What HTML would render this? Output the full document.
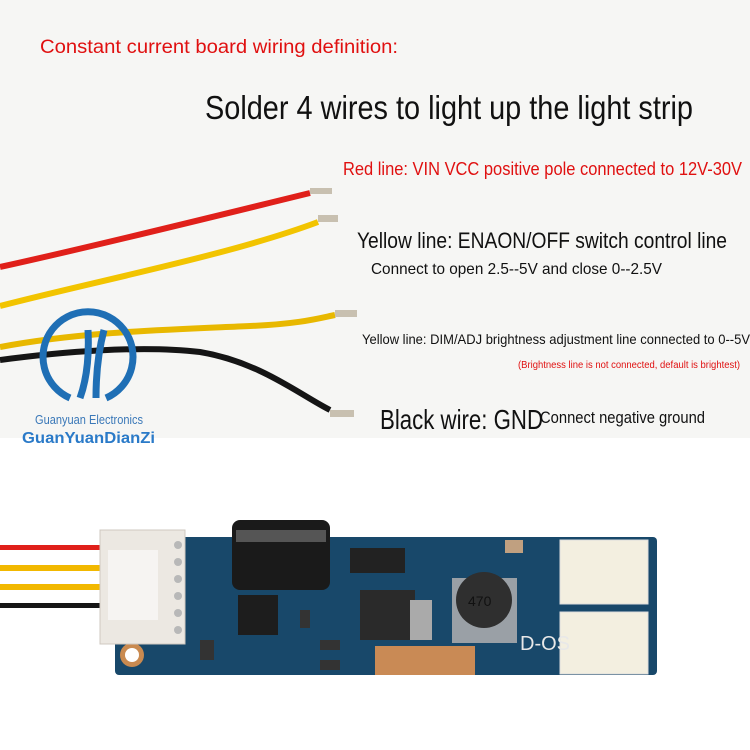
<!DOCTYPE html>
<html><head><style>
body{margin:0;width:750px;height:750px;background:#fff;overflow:hidden}
svg{display:block}
text{font-family:"Liberation Sans",sans-serif}
</style></head><body>
<svg width="750" height="750" viewBox="0 0 750 750">
<rect width="750" height="750" fill="#fff"/>
<rect width="750" height="438" fill="#f6f6f4"/>
<text x="40" y="53" font-size="19" fill="#e01010" textLength="358" lengthAdjust="spacingAndGlyphs">Constant current board wiring definition:</text>
<text x="205" y="119" font-size="33" fill="#111" textLength="488" lengthAdjust="spacingAndGlyphs">Solder 4 wires to light up the light strip</text>
<text x="343" y="175" font-size="18" fill="#e01010" textLength="399" lengthAdjust="spacingAndGlyphs">Red line: VIN VCC positive pole connected to 12V-30V</text>
<text x="357" y="248" font-size="22" fill="#111" textLength="370" lengthAdjust="spacingAndGlyphs">Yellow line: ENAON/OFF switch control line</text>
<text x="371" y="274" font-size="16" fill="#111" textLength="291" lengthAdjust="spacingAndGlyphs">Connect to open 2.5--5V and close 0--2.5V</text>
<text x="362" y="344" font-size="14" fill="#111" textLength="388" lengthAdjust="spacingAndGlyphs">Yellow line: DIM/ADJ brightness adjustment line connected to 0--5V</text>
<text x="518" y="368" font-size="10" fill="#e01010" textLength="222" lengthAdjust="spacingAndGlyphs">(Brightness line is not connected, default is brightest)</text>
<text x="380" y="429" font-size="28" fill="#111" textLength="163" lengthAdjust="spacingAndGlyphs">Black wire: GND</text>
<text x="540" y="423" font-size="17" fill="#111" textLength="165" lengthAdjust="spacingAndGlyphs">Connect negative ground</text>
<!-- wires -->
<path d="M0 267 C100 245 220 215 310 193" stroke="#e0201a" stroke-width="6" fill="none"/>
<path d="M0 306 C100 280 230 255 318 222" stroke="#f2c400" stroke-width="6" fill="none"/>
<path d="M0 347 C80 332 160 330 250 326 C300 324 320 318 335 315" stroke="#e8b800" stroke-width="6" fill="none"/>
<path d="M0 360 C60 352 140 345 200 352 C260 362 300 395 330 410" stroke="#151515" stroke-width="6" fill="none"/>
<g fill="#c8c0b0"><rect x="310" y="188" width="22" height="6"/><rect x="318" y="215" width="20" height="7"/><rect x="335" y="310" width="22" height="7"/><rect x="330" y="410" width="24" height="7"/></g>
<!-- logo -->
<path d="M70 398 A45 45 0 1 1 106 398" fill="none" stroke="#1f6fb5" stroke-width="7"/>
<path d="M88 330 Q90 370 80 398 M104 330 Q96 360 96 398" fill="none" stroke="#1f6fb5" stroke-width="7"/>
<text x="35" y="424" font-size="13" fill="#3a78b8" textLength="108" lengthAdjust="spacingAndGlyphs">Guanyuan Electronics</text>
<text x="22" y="443" font-size="16" font-weight="bold" fill="#2a7ac8" textLength="133" lengthAdjust="spacingAndGlyphs">GuanYuanDianZi</text>
<!-- board wires -->
<rect x="0" y="545" width="110" height="5" fill="#e0201a"/>
<rect x="0" y="565" width="110" height="6" fill="#f2b800"/>
<rect x="0" y="584" width="110" height="6" fill="#f2b800"/>
<rect x="0" y="603" width="110" height="5" fill="#151515"/>
<!-- pcb -->
<rect x="115" y="537" width="542" height="138" rx="4" fill="#18486a"/>
<circle cx="132" cy="655" r="12" fill="#c98a50"/><circle cx="132" cy="655" r="7" fill="#fff"/>
<rect x="375" y="646" width="100" height="29" fill="#c98a55"/>
<rect x="100" y="530" width="85" height="114" fill="#ece8e2" stroke="#cfc8c0"/>
<rect x="108" y="550" width="50" height="70" fill="#f6f4f2"/>
<g fill="#b8b8b8"><circle cx="178" cy="545" r="4"/><circle cx="178" cy="562" r="4"/><circle cx="178" cy="579" r="4"/><circle cx="178" cy="596" r="4"/><circle cx="178" cy="613" r="4"/><circle cx="178" cy="630" r="4"/></g>
<rect x="232" y="520" width="98" height="70" rx="8" fill="#1a1a1a"/>
<rect x="236" y="530" width="90" height="12" fill="#555"/>
<rect x="238" y="595" width="40" height="40" fill="#1d1d1d"/>
<rect x="350" y="548" width="55" height="25" fill="#222"/>
<rect x="360" y="590" width="55" height="50" fill="#2a2a2a"/>
<rect x="410" y="600" width="22" height="40" fill="#aaa"/>
<rect x="452" y="578" width="65" height="65" fill="#9aa0a6"/>
<circle cx="484" cy="600" r="28" fill="#2f2f2f"/>
<text x="468" y="606" font-size="14" fill="#111">470</text>
<rect x="560" y="540" width="88" height="64" fill="#f3efe0" stroke="#ddd"/>
<rect x="560" y="612" width="88" height="62" fill="#f3efe0" stroke="#ddd"/>
<text x="520" y="650" font-size="20" fill="#e8e8e8">D-OS</text>
<rect x="505" y="540" width="18" height="13" fill="#c0a080"/>
<g fill="#333"><rect x="200" y="640" width="14" height="20"/><rect x="320" y="640" width="20" height="10"/><rect x="320" y="660" width="20" height="10"/><rect x="300" y="610" width="10" height="18"/></g>
</svg>
</body></html>
